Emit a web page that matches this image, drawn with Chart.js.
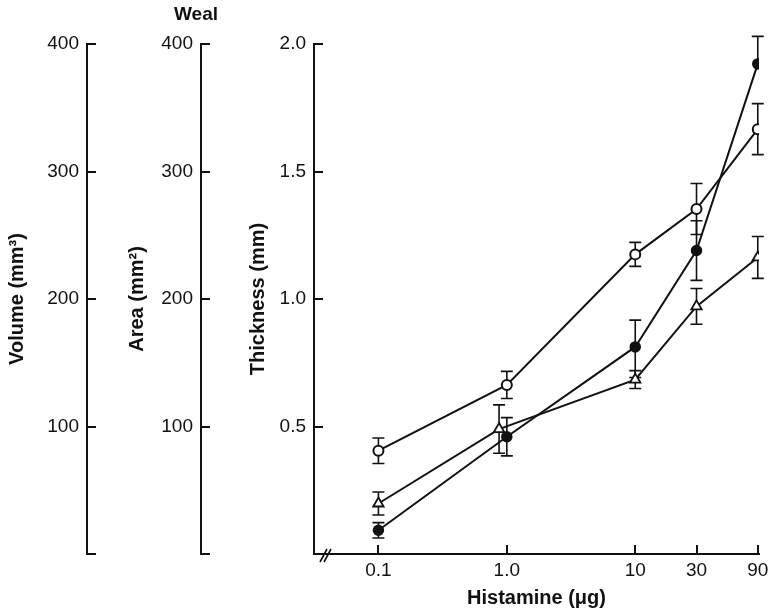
<!DOCTYPE html>
<html>
<head>
<meta charset="utf-8">
<title>Weal</title>
<script src="https://cdn.jsdelivr.net/npm/chart.js@4.4.0/dist/chart.umd.min.js"></script>
<style>
  body { margin: 0; background: #fff; }
  canvas { display: block; }
</style>
</head>
<body>
<canvas id="wealChart" width="773" height="611"></canvas>
<script>
// histamine doses (ug), log x axis
const doses = [0.1, 1, 10, 30, 90];
const triangleDoses = [0.1, 0.87, 10, 30, 90];
const xTickValues = [0.1, 1, 10, 30, 90];
const xTickLabels = ['0.1', '1.0', '10', '30', '90'];

// weal thickness (mm), mean and error
const filledThickness = [0.093, 0.46, 0.812, 1.19, 1.922];
const filledErrUp = [0.03, 0.075, 0.105, 0.117, 0.108];
const filledErrDown = [0.03, 0.075, 0.12, 0.117, 0];
const openThickness = [0.405, 0.663, 1.175, 1.353, 1.666];
const openErr = [0.05, 0.053, 0.047, 0.1, 0.1];
const triangleThickness = [0.198, 0.49, 0.684, 0.971, 1.163];
const triangleErr = [0.045, 0.095, 0.035, 0.07, 0.082];

const volumeTicks = [0, 100, 200, 300, 400];
const areaTicks = [0, 100, 200, 300, 400];
const thicknessTicks = [0, 0.5, 1.0, 1.5, 2.0];

function points(xs, ys) {
    return xs.map((x, i) => ({ x: x, y: ys[i] }));
}

const ink = '#111';
const tickFont = { family: 'Liberation Sans', size: 19 };
const titleFont = { family: 'Liberation Sans', size: 20, weight: 'bold' };

// error bars, drawn before the markers so open symbols cover them
const errorBars = {
    id: 'errorBars',
    beforeDatasetsDraw(chart) {
        const ctx = chart.ctx;
        const x = chart.scales.x;
        const y = chart.scales.thick;
        ctx.save();
        ctx.strokeStyle = ink;
        ctx.lineWidth = 1.6;
        chart.data.datasets.forEach(ds => {
            ds.data.forEach((p, i) => {
                const px = x.getPixelForValue(p.x);
                const top = y.getPixelForValue(p.y + ds.errUp[i]);
                const bot = y.getPixelForValue(p.y - ds.errDown[i]);
                ctx.beginPath();
                ctx.moveTo(px, top);
                ctx.lineTo(px, bot);
                if (ds.errUp[i] > 0) {
                    ctx.moveTo(px - 6, top);
                    ctx.lineTo(px + 6, top);
                }
                if (ds.errDown[i] > 0) {
                    ctx.moveTo(px - 6, bot);
                    ctx.lineTo(px + 6, bot);
                }
                ctx.stroke();
            });
        });
        ctx.restore();
    }
};

// "Weal" heading and the axis break mark
const extras = {
    id: 'extras',
    afterDraw(chart) {
        const ctx = chart.ctx;
        const area = chart.chartArea;
        ctx.save();
        ctx.fillStyle = ink;
        ctx.font = 'bold 19px "Liberation Sans"';
        ctx.textAlign = 'center';
        ctx.textBaseline = 'middle';
        ctx.fillText('Weal', chart.scales.area.right - 5, 15);

        ctx.strokeStyle = ink;
        ctx.lineWidth = 1.6;
        ctx.beginPath();
        ctx.moveTo(area.left + 6, area.bottom + 8);
        ctx.lineTo(area.left + 13, area.bottom - 5);
        ctx.moveTo(area.left + 10, area.bottom + 8);
        ctx.lineTo(area.left + 17, area.bottom - 5);
        ctx.stroke();
        ctx.restore();
    }
};

function fixedWidth(w) {
    return function(scale) { scale.width = w; };
}

function yAxis(opts) {
    return {
        type: 'linear',
        position: 'left',
        weight: opts.weight,
        min: opts.ticks[0],
        max: opts.ticks[opts.ticks.length - 1],
        afterBuildTicks: scale => { scale.ticks = opts.ticks.map(v => ({ value: v })); },
        afterFit: fixedWidth(opts.width),
        border: { display: true, color: ink, width: 2 },
        grid: { drawOnChartArea: false, drawTicks: true, tickLength: -9, color: ink, lineWidth: 2 },
        ticks: {
            color: ink,
            font: tickFont,
            padding: 17,
            callback: v => (v === 0 ? '' : opts.format(v))
        },
        title: {
            display: true,
            text: opts.title,
            color: ink,
            font: titleFont,
            padding: { top: opts.titlePad, bottom: 0 }
        }
    };
}

const ctx = document.getElementById('wealChart').getContext('2d');

const wealChart = new Chart(ctx, {
    type: 'line',
    data: {
        datasets: [
            {
                label: 'filled',
                data: points(doses, filledThickness),
                errUp: filledErrUp,
                errDown: filledErrDown,
                borderColor: ink,
                backgroundColor: ink,
                borderWidth: 2,
                pointStyle: 'circle',
                pointRadius: 5,
                pointBackgroundColor: ink,
                pointBorderWidth: 1.5,
                yAxisID: 'thick'
            },
            {
                label: 'open',
                data: points(doses, openThickness),
                errUp: openErr,
                errDown: openErr,
                borderColor: ink,
                borderWidth: 2,
                pointStyle: 'circle',
                pointRadius: 5,
                pointBackgroundColor: '#fff',
                pointBorderWidth: 2,
                yAxisID: 'thick'
            },
            {
                label: 'triangle',
                data: points(triangleDoses, triangleThickness),
                errUp: triangleErr,
                errDown: triangleErr,
                borderColor: ink,
                borderWidth: 2,
                pointStyle: 'triangle',
                pointRadius: 6,
                pointBackgroundColor: '#fff',
                pointBorderWidth: 1.8,
                yAxisID: 'thick'
            }
        ]
    },
    options: {
        responsive: false,
        animation: false,
        layout: { padding: { top: 44, right: 0, bottom: 0, left: 0 } },
        elements: { line: { tension: 0 } },
        plugins: {
            legend: { display: false },
            tooltip: { enabled: false }
        },
        scales: {
            x: {
                type: 'logarithmic',
                position: 'bottom',
                min: 0.0315,
                max: 92,
                afterBuildTicks: scale => { scale.ticks = xTickValues.map(v => ({ value: v })); },
                afterFit: scale => {
                    scale.height = 57;
                    scale.paddingLeft = 0;
                    scale.paddingRight = 14;
                },
                border: { display: true, color: ink, width: 2 },
                grid: { drawOnChartArea: false, drawTicks: true, tickLength: -9, color: ink, lineWidth: 2 },
                ticks: {
                    color: ink,
                    font: tickFont,
                    padding: 14,
                    autoSkip: false,
                    maxRotation: 0,
                    callback: v => xTickLabels[xTickValues.indexOf(v)] || ''
                },
                title: {
                    display: true,
                    text: 'Histamine (\u03bcg)',
                    color: ink,
                    font: titleFont,
                    padding: { top: 0, bottom: 1 }
                }
            },
            thick: yAxis({
                weight: 1, width: 113, ticks: thicknessTicks, titlePad: 45,
                title: 'Thickness (mm)', format: v => v.toFixed(1)
            }),
            area: yAxis({
                weight: 2, width: 114, ticks: areaTicks, titlePad: 38,
                title: 'Area (mm\u00b2)', format: v => String(v)
            }),
            vol: yAxis({
                weight: 3, width: 87, ticks: volumeTicks, titlePad: 5,
                title: 'Volume (mm\u00b3)', format: v => String(v)
            })
        }
    },
    plugins: [errorBars, extras]
});
</script>
</body>
</html>
